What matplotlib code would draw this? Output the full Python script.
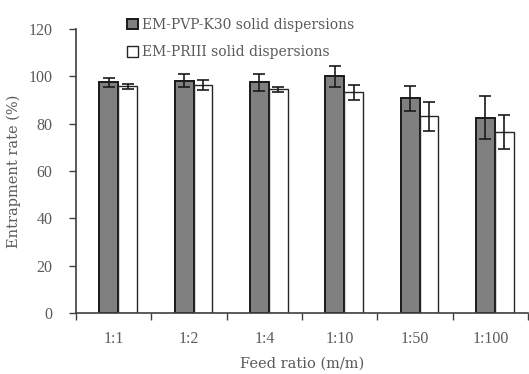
import matplotlib
matplotlib.use("Agg")
import matplotlib.pyplot as plt
import numpy as np

categories = ["1:1", "1:2", "1:4", "1:10", "1:50", "1:100"]
pvp_values = [97.5, 98.2, 97.5, 100.0, 90.8, 82.6]
pvp_errors = [2.0, 2.7, 3.5, 4.5, 5.3, 9.0]
priii_values = [95.8, 96.2, 94.5, 93.2, 83.2, 76.5]
priii_errors = [1.0, 2.1, 1.0, 3.2, 6.1, 7.1]
series_labels = ["EM-PVP-K30 solid dispersions", "EM-PRIII solid dispersions"]
y_ticks = [0, 20, 40, 60, 80, 100, 120]

plt.rcParams['font.family'] = ['Liberation Serif', 'DejaVu Serif']
txt = '#5a5a5a'
label_font = ['DejaVu Serif']

fig = plt.figure(figsize=(5.29, 3.74), dpi=100)
ax = fig.add_axes([76/529, 1-313/374, 452/529, 284/374])

x = np.arange(len(categories)) + 0.5
w = 0.25
off = 0.06
ax.bar(x - w/2 + off, pvp_values, w, color='#808080', edgecolor='#1a1a1a',
       linewidth=1.4, label=series_labels[0], zorder=2)
ax.bar(x + w/2 + off, priii_values, w, color='white', edgecolor='#262626',
       linewidth=1.0, label=series_labels[1], zorder=2)
ax.errorbar(x - w/2 + off, pvp_values, yerr=pvp_errors, fmt='none', ecolor='#1a1a1a',
            elinewidth=1.2, capsize=4, capthick=1.2, zorder=3)
ax.errorbar(x + w/2 + off, priii_values, yerr=priii_errors, fmt='none', ecolor='#1a1a1a',
            elinewidth=1.2, capsize=4, capthick=1.2, zorder=3)

ax.set_xlim(0, 6)
ax.set_ylim(0, 120)
ax.set_yticks(y_ticks)
ax.set_xticks(np.arange(0, 7))
ax.set_xticklabels([])
ax.set_xticks(x, minor=True)
ax.set_xticklabels(categories, minor=True)
ax.tick_params(axis='x', which='minor', length=0, pad=13, labelsize=11.5, labelcolor=txt)
ax.tick_params(axis='x', which='major', length=5, width=1, color='#404040', direction='out')
ax.tick_params(axis='y', length=5, width=1, color='#404040', labelsize=11.5, labelcolor=txt, pad=12)
for s in ['top', 'right']:
    ax.spines[s].set_visible(False)
for s in ['left', 'bottom']:
    ax.spines[s].set_color('#404040')
    ax.spines[s].set_linewidth(1.2)

ax.set_ylabel("Entrapment rate (%)", fontsize=10.5, color=txt, labelpad=5, family=label_font)
ax.set_xlabel("Feed ratio (m/m)", fontsize=10.5, color=txt, labelpad=7, family=label_font)

leg = ax.legend(loc='upper left', bbox_to_anchor=(127/529, 1-18/374),
                bbox_transform=fig.transFigure, frameon=False,
                prop={'family': label_font, 'size': 10},
                handlelength=0.8, handleheight=0.8, handletextpad=0.3,
                labelspacing=0.95, borderpad=0, borderaxespad=0)
for t in leg.get_texts():
    t.set_color(txt)

fig.savefig("out.png", dpi=100)
